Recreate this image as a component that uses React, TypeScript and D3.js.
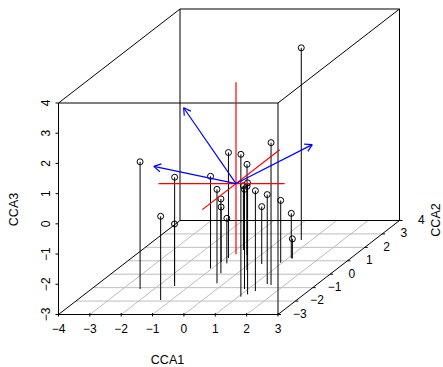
import React from "react";
import * as d3 from "d3";

const W = 443, H = 367;
const xTicks = [-4, -3, -2, -1, 0, 1, 2, 3];
const yTicks = [-3, -2, -1, 0, 1, 2, 3, 4];
const zTicks = [-3, -2, -1, 0, 1, 2, 3, 4];

const px = [0.67, 1.56, -2.45, -1.47, -1.64, -1.34, -1.05, -0.23, -0.52, -0.98, -0.74, -0.91, 1.08, -0.44, 1.20, -0.76, 0.88, 0.18, 1.31, 1.40, 0.40, 0.95, 1.11, 1.15];
const py = [2.55, -0.80, -1.10, -0.88, -0.58, -1.92, 0.43, -0.68, 0.07, 0.91, 0.81, 1.21, -1.67, 1.43, -1.50, 1.80, -1.10, 0.31, -1.25, -0.73, 0.76, 0.86, 1.18, 1.17];
const pz = [3.36, 1.71, 1.21, 0.60, -1.08, -0.23, 0.05, 0.11, -0.54, -1.18, -1.51, 0.49, 1.71, 0.00, 0.69, -0.87, 0.30, -0.23, 0.32, -0.04, -1.10, -0.94, -1.51, -2.35];

// red axis segments through the origin: [x, y, z] end pairs
const redX = [-2.47, 1.55];
const redY = [-1.94, 2.52];
const redZ = [-2.34, 3.35];

// blue biplot arrows
const arrowX = [-1.67, -2.62, 2.43];
const arrowY = [0, 0, 0];
const arrowZ = [2.51, 0.57, 1.29];

const sx = d3.scaleLinear().domain([-4, 3]).range([58.5, 278]);
const sz = d3.scaleLinear().domain([-3, 4]).range([314.5, 103]);
const sdx = d3.scaleLinear().domain([-3, 4]).range([0, 121.5]);
const sdy = d3.scaleLinear().domain([-3, 4]).range([0, 94]);
const proj = (x: number, y: number, z: number): [number, number] => [sx(x) + sdx(y), sz(z) - sdy(y)];
const fmt = (v: number) => String(v).replace("-", "\u2212");

const FONT = "'Liberation Sans', Arial, sans-serif";

function Seg({ a, b, stroke = "#000", w = 1 }: { a: [number, number]; b: [number, number]; stroke?: string; w?: number }) {
  return <line x1={a[0]} y1={a[1]} x2={b[0]} y2={b[1]} stroke={stroke} strokeWidth={w} />;
}

export default function App() {
  const o = proj(0, 0, 0);
  return (
    <svg width={W} height={H} viewBox={`0 0 ${W} ${H}`} style={{ position: "absolute", left: 0, top: 0, background: "#fff" }} fontFamily={FONT}>
      {/* floor grid */}
      {xTicks.slice(1, -1).map((t) => (
        <Seg key={"gx" + t} a={proj(t, -3, -3)} b={proj(t, 4, -3)} stroke="#bebebe" />
      ))}
      {yTicks.slice(1, -1).map((t) => (
        <Seg key={"gy" + t} a={proj(-4, t, -3)} b={proj(3, t, -3)} stroke="#bebebe" />
      ))}
      {/* back box */}
      <Seg a={proj(-4, 4, -3)} b={proj(3, 4, -3)} />
      <Seg a={proj(-4, 4, -3)} b={proj(-4, 4, 4)} />
      <Seg a={proj(-4, 4, 4)} b={proj(3, 4, 4)} />
      <Seg a={proj(3, 4, -3)} b={proj(3, 4, 4)} />
      <Seg a={proj(-4, -3, 4)} b={proj(-4, 4, 4)} />
      <Seg a={proj(3, -3, 4)} b={proj(3, 4, 4)} />
      {/* drop lines and points */}
      {px.map((x, i) => (
        <Seg key={"d" + i} a={proj(x, py[i], pz[i])} b={proj(x, py[i], -3)} />
      ))}
      {px.map((x, i) => {
        const [cx, cy] = proj(x, py[i], pz[i]);
        return <circle key={"p" + i} cx={cx} cy={cy} r={3} fill="none" stroke="#000" strokeWidth={1} />;
      })}
      {/* front box */}
      <Seg a={proj(-4, -3, -3)} b={proj(3, -3, -3)} />
      <Seg a={proj(-4, -3, -3)} b={proj(-4, -3, 4)} />
      <Seg a={proj(-4, -3, 4)} b={proj(3, -3, 4)} />
      <Seg a={proj(3, -3, -3)} b={proj(3, -3, 4)} />
      <Seg a={proj(-4, -3, -3)} b={proj(-4, 4, -3)} />
      <Seg a={proj(3, -3, -3)} b={proj(3, 4, -3)} />
      {/* red axes */}
      <Seg a={proj(redX[0], 0, 0)} b={proj(redX[1], 0, 0)} stroke="#ff0000" w={1.2} />
      <Seg a={proj(0, redY[0], 0)} b={proj(0, redY[1], 0)} stroke="#ff0000" w={1.2} />
      <Seg a={proj(0, 0, redZ[0])} b={proj(0, 0, redZ[1])} stroke="#ff0000" w={1.2} />
      {/* blue arrows */}
      {arrowX.map((x, i) => {
        const tip = proj(x, arrowY[i], arrowZ[i]);
        const ang = Math.atan2(tip[1] - o[1], tip[0] - o[0]);
        const L = 8;
        const head = [ang + Math.PI - Math.PI / 6, ang + Math.PI + Math.PI / 6].map(
          (a) => [tip[0] + L * Math.cos(a), tip[1] + L * Math.sin(a)] as [number, number]
        );
        return (
          <g key={"a" + i}>
            <Seg a={o} b={tip} stroke="#0000ff" w={1.2} />
            <Seg a={head[0]} b={tip} stroke="#0000ff" w={1.2} />
            <Seg a={head[1]} b={tip} stroke="#0000ff" w={1.2} />
          </g>
        );
      })}
      {/* ticks and labels */}
      {xTicks.map((t) => {
        const [x, y] = proj(t, -3, -3);
        return (
          <g key={"xt" + t}>
            <line x1={x} y1={y - 1.5} x2={x} y2={y + 2} stroke="#000" />
            <text x={x} y={332.5} fontSize={12} textAnchor="middle" fill="#000">{fmt(t)}</text>
          </g>
        );
      })}
      {yTicks.map((t) => {
        const [x, y] = proj(3, t, -3);
        return (
          <g key={"yt" + t}>
            <line x1={x} y1={y} x2={x + 3} y2={y} stroke="#000" />
            <text x={x + 21.8} y={y + 3.3} fontSize={12} textAnchor="middle" fill="#000">{fmt(t)}</text>
          </g>
        );
      })}
      {zTicks.map((t) => {
        const [x, y] = proj(-4, -3, t);
        return (
          <g key={"zt" + t}>
            <line x1={x - 3} y1={y} x2={x} y2={y} stroke="#000" />
            <text transform={`translate(50,${y}) rotate(-90)`} fontSize={12} textAnchor="middle" fill="#000">{fmt(t)}</text>
          </g>
        );
      })}
      <text x={167.5} y={363.5} fontSize={12.5} textAnchor="middle" fill="#000">CCA1</text>
      <text transform="translate(17.5,209.5) rotate(-90)" fontSize={12.5} textAnchor="middle" fill="#000">CCA3</text>
      <text transform="translate(440.4,220) rotate(-90)" fontSize={12.5} textAnchor="middle" fill="#000">CCA2</text>
    </svg>
  );
}
